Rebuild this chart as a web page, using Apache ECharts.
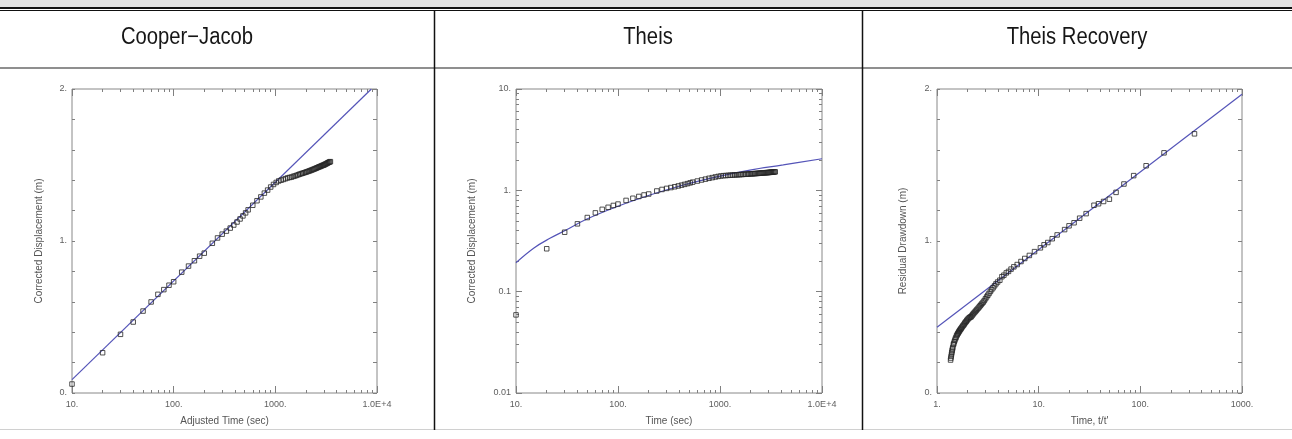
<!DOCTYPE html>
<html><head><meta charset="utf-8">
<script src="https://cdn.jsdelivr.net/npm/echarts@6/dist/echarts.min.js"></script>
<style>html,body{margin:0;padding:0;background:#fff}#c{width:1292px;height:439px}</style>
</head><body><div id="c"></div>
<script>
// ---------- DATA ----------
const panelTitles = ['Cooper\u2212Jacob', 'Theis', 'Theis Recovery'];

// pumping test: adjusted time (sec) and corrected displacement (m)
const pumpTime = [10,20,30,40,50,60,70,80,90,100,120,140,160,180,200,240,270,300,330,360,390,420,450,480,510,540,600,660,720,780,840,900,960,1020,1080,1140,1200,1260,1320,1380,1440,1500,1560,1620,1680,1740,1800,1860,1920,1980,2040,2100,2160,2220,2280,2340,2400,2460,2520,2580,2640,2700,2760,2820,2880,2940,3000,3060,3120,3180,3240,3300,3360,3420,3480];
const pumpDisp = [0.059,0.265,0.386,0.467,0.539,0.599,0.649,0.68,0.709,0.732,0.795,0.835,0.87,0.9,0.92,0.985,1.02,1.045,1.065,1.085,1.105,1.125,1.145,1.165,1.185,1.205,1.235,1.265,1.29,1.315,1.335,1.355,1.372,1.385,1.395,1.40,1.405,1.41,1.415,1.418,1.42,1.425,1.428,1.432,1.436,1.44,1.443,1.446,1.449,1.452,1.455,1.458,1.461,1.464,1.467,1.47,1.473,1.476,1.479,1.482,1.485,1.488,1.49,1.493,1.496,1.498,1.50,1.503,1.506,1.509,1.512,1.515,1.518,1.52,1.522];

// Cooper-Jacob straight-line fit (end points)
const cjFitTime = [10, 8800];
const cjFitDisp = [0.088, 2.0];

// Theis type-curve fit
const theisCurveTime = [10, 15, 21.5, 31, 49, 97, 206, 437, 927, 1968, 4170, 10000];
const theisCurveDisp = [0.193, 0.27, 0.336, 0.406, 0.518, 0.689, 0.899, 1.13, 1.36, 1.585, 1.78, 2.05];

// recovery: t/t' and residual drawdown (m)
const recTime = [341,171,114,86,69,57.7,49.6,43.5,38.8,35,29.3,25.3,22.3,19.9,18,15.2,13.6,12.3,11.3,10.4,9.1,8.1,7.3,6.7,6.15,5.7,5.35,5.05,4.8,4.55,4.35,4.15,3.95,3.8,3.68,3.56,3.45,3.35,3.25,3.16,3.08,3.0,2.92,2.85,2.78,2.72,2.66,2.6,2.54,2.48,2.43,2.38,2.33,2.28,2.24,2.2,2.16,2.12,2.08,2.04,2.0,1.97,1.94,1.91,1.88,1.85,1.82,1.79,1.76,1.73,1.71,1.68,1.66,1.64,1.62,1.6,1.58,1.56,1.54,1.52,1.5,1.48,1.46,1.45,1.43,1.42,1.41,1.40,1.39,1.38,1.37,1.36];
const recDraw = [1.705,1.58,1.495,1.43,1.375,1.32,1.275,1.26,1.245,1.235,1.18,1.15,1.12,1.10,1.075,1.04,1.015,0.99,0.975,0.955,0.93,0.905,0.885,0.865,0.845,0.83,0.815,0.80,0.79,0.775,0.765,0.742,0.73,0.718,0.705,0.692,0.68,0.668,0.655,0.643,0.632,0.62,0.608,0.598,0.59,0.582,0.574,0.566,0.558,0.55,0.543,0.536,0.529,0.522,0.515,0.508,0.501,0.50,0.495,0.49,0.484,0.478,0.472,0.466,0.46,0.453,0.446,0.44,0.433,0.426,0.42,0.414,0.408,0.402,0.396,0.39,0.384,0.377,0.367,0.358,0.348,0.337,0.325,0.318,0.30,0.29,0.28,0.268,0.256,0.243,0.23,0.217];

// straight-line fit on the recovery plot
const recFitTime = [1, 1000];
const recFitDraw = [0.432, 1.965];

// axis tick labels
const timeLabels = ['10.', '100.', '1000.', '1.0E+4'];
const ratioLabels = ['1.', '10.', '100.', '1000.'];
const logDispLabels = ['0.01', '0.1', '1.', '10.'];
const linValues = [0, 1, 2];
const linLabels = ['0.', '1.', '2.'];
const timeMinor = [20,30,40,50,60,70,80,90,200,300,400,500,600,700,800,900,2000,3000,4000,5000,6000,7000,8000,9000];
const ratioMinor = [2,3,4,5,6,7,8,9,20,30,40,50,60,70,80,90,200,300,400,500,600,700,800,900];
const dispMinor = [0.02,0.03,0.04,0.05,0.06,0.07,0.08,0.09,0.2,0.3,0.4,0.5,0.6,0.7,0.8,0.9,2,3,4,5,6,7,8,9];
const axisNames = {
  x: ['Adjusted Time (sec)', 'Time (sec)', "Time, t/t'"],
  y: ['Corrected Displacement (m)', 'Corrected Displacement (m)', 'Residual Drawdown (m)']
};

// ---------- CHART ----------
const zip = (a, b) => a.map((v, i) => [v, b[i]]);
const AX = '#808080', LBL = '#5e5e5e', FONT = 'Liberation Sans, Arial, sans-serif';
const lineCol = '#5454b8';

const grids = [
  {left: 72, top: 89, width: 305, height: 304},
  {left: 516, top: 89, width: 306, height: 304},
  {left: 937, top: 89, width: 305, height: 304}
].map(g => Object.assign({show: true, borderColor: '#888', borderWidth: 1, backgroundColor: 'transparent', outerBoundsMode: 'none'}, g));

function logFmt(labels, min) {
  return v => { const i = Math.round(Math.log10(v)) - Math.round(Math.log10(min)); return labels[i] !== undefined ? labels[i] : ''; };
}
const tickStyle = {color: AX, width: 1};
const lblStyle = {color: LBL, fontSize: 9, fontFamily: FONT};
const nameStyle = {color: '#555', fontSize: 10, fontFamily: FONT};

function logX(gi, min, max, labels, minors, name) {
  const c = {type: 'log', logBase: 10, gridIndex: gi, min, max, splitLine: {show: false}, axisLine: {show: false}, nameMoveOverlap: false};
  return [
    Object.assign({}, c, {position: 'bottom', axisTick: {inside: true, length: 7, lineStyle: tickStyle},
      axisLabel: Object.assign({margin: 7, formatter: logFmt(labels, min), showMinLabel: true, showMaxLabel: true, hideOverlap: false}, lblStyle),
      name, nameLocation: 'middle', nameGap: 23, nameTextStyle: nameStyle}),
    Object.assign({}, c, {position: 'bottom', axisTick: {inside: true, length: 3, customValues: minors, lineStyle: tickStyle}, axisLabel: {show: false}}),
    Object.assign({}, c, {position: 'top', axisTick: {inside: true, length: 7, lineStyle: tickStyle}, axisLabel: {show: false}}),
    Object.assign({}, c, {position: 'top', axisTick: {inside: true, length: 3, customValues: minors, lineStyle: tickStyle}, axisLabel: {show: false}})
  ];
}
function linY(gi, name, gap) {
  const c = {type: 'value', gridIndex: gi, min: 0, max: 2, interval: 0.2, splitLine: {show: false}, axisLine: {show: false}, nameMoveOverlap: false};
  return [
    Object.assign({}, c, {position: 'left', axisTick: {inside: true, length: 3, lineStyle: tickStyle},
      axisLabel: Object.assign({margin: 5, customValues: linValues, formatter: v => linLabels[linValues.indexOf(Math.round(v))] || ''}, lblStyle),
      name, nameLocation: 'middle', nameGap: gap, nameTextStyle: nameStyle}),
    Object.assign({}, c, {position: 'right', axisTick: {inside: true, length: 4, lineStyle: tickStyle}, axisLabel: {show: false}})
  ];
}
function logY(gi, name, gap) {
  const c = {type: 'log', logBase: 10, gridIndex: gi, min: 0.01, max: 10, splitLine: {show: false}, axisLine: {show: false}, nameMoveOverlap: false};
  return [
    Object.assign({}, c, {position: 'left', axisTick: {inside: true, length: 6, lineStyle: tickStyle},
      axisLabel: Object.assign({margin: 5, formatter: logFmt(logDispLabels, 0.01), showMinLabel: true, showMaxLabel: true}, lblStyle),
      name, nameLocation: 'middle', nameGap: gap, nameTextStyle: nameStyle}),
    Object.assign({}, c, {position: 'left', axisTick: {inside: true, length: 3, customValues: dispMinor, lineStyle: tickStyle}, axisLabel: {show: false}}),
    Object.assign({}, c, {position: 'right', axisTick: {inside: true, length: 6, lineStyle: tickStyle}, axisLabel: {show: false}}),
    Object.assign({}, c, {position: 'right', axisTick: {inside: true, length: 3, customValues: dispMinor, lineStyle: tickStyle}, axisLabel: {show: false}})
  ];
}

const xAxis = [].concat(
  logX(0, 10, 10000, timeLabels, timeMinor, axisNames.x[0]),
  logX(1, 10, 10000, timeLabels, timeMinor, axisNames.x[1]),
  logX(2, 1, 1000, ratioLabels, ratioMinor, axisNames.x[2])
);
const yAxis = [].concat(
  linY(0, axisNames.y[0], 28),   // 0,1
  logY(1, axisNames.y[1], 39),   // 2..5
  linY(2, axisNames.y[2], 29)    // 6,7
);

const pts = {type: 'scatter', symbol: 'rect', symbolSize: 4.5, itemStyle: {color: 'rgba(0,0,0,0)', borderColor: '#262626', borderWidth: 1}, z: 3, silent: true};
const fit = {type: 'line', symbol: 'none', lineStyle: {color: lineCol, width: 1.2}, z: 2, silent: true, clip: true};

const series = [
  Object.assign({}, fit, {xAxisIndex: 0, yAxisIndex: 0, data: zip(cjFitTime, cjFitDisp)}),
  Object.assign({}, pts, {xAxisIndex: 0, yAxisIndex: 0, data: zip(pumpTime, pumpDisp)}),
  Object.assign({}, fit, {xAxisIndex: 4, yAxisIndex: 2, smooth: 0.4, data: zip(theisCurveTime, theisCurveDisp)}),
  Object.assign({}, pts, {xAxisIndex: 4, yAxisIndex: 2, data: zip(pumpTime, pumpDisp)}),
  Object.assign({}, fit, {xAxisIndex: 8, yAxisIndex: 6, data: zip(recFitTime, recFitDraw)}),
  Object.assign({}, pts, {xAxisIndex: 8, yAxisIndex: 6, data: zip(recTime, recDraw)})
];

const titleX = [187, 648, 1077];
const graphic = [
  {type: 'rect', shape: {x: 0, y: 0, width: 1292, height: 7}, style: {fill: '#e2e2e2'}, silent: true},
  {type: 'line', shape: {x1: 0, y1: 8, x2: 1292, y2: 8}, style: {stroke: '#111', lineWidth: 2}, silent: true},
  {type: 'line', shape: {x1: 0, y1: 10.5, x2: 1292, y2: 10.5}, style: {stroke: '#111', lineWidth: 1}, silent: true},
  {type: 'line', shape: {x1: 0, y1: 68, x2: 1292, y2: 68}, style: {stroke: '#6a6a6a', lineWidth: 1.5}, silent: true},
  {type: 'line', shape: {x1: 0, y1: 429.5, x2: 1292, y2: 429.5}, style: {stroke: '#d0d0d0', lineWidth: 1}, silent: true},
  {type: 'line', shape: {x1: 434.5, y1: 10, x2: 434.5, y2: 430}, style: {stroke: '#111', lineWidth: 1.5}, silent: true},
  {type: 'line', shape: {x1: 862.5, y1: 10, x2: 862.5, y2: 430}, style: {stroke: '#111', lineWidth: 1.5}, silent: true}
].concat(panelTitles.map((t, i) => ({
  type: 'text', x: titleX[i], y: 38, silent: true, scaleX: 0.88,
  style: {text: t, fill: '#161616', font: '23px ' + FONT, textAlign: 'center', textVerticalAlign: 'middle'}
})));

const chart = echarts.init(document.getElementById('c'), null, {renderer: 'canvas', width: 1292, height: 439});
chart.setOption({
  animation: false,
  backgroundColor: '#fff',
  grid: grids,
  xAxis, yAxis, series, graphic
});
</script></body></html>
